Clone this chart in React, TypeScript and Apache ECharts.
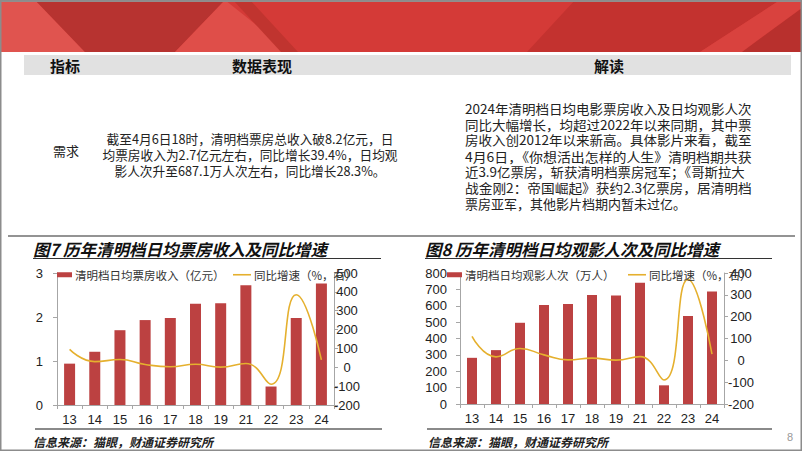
import React, { useEffect, useRef } from "react";
import * as echarts from "echarts";

const years = ["13", "14", "15", "16", "17", "18", "19", "21", "22", "23", "24"];
const boxOffice = [0.94, 1.21, 1.7, 1.93, 1.98, 2.3, 2.31, 2.72, 0.42, 1.98, 2.76];
const boxOfficeYoY = [95, 30, 41, 15, 3, 16, 1, 20, -90, 385, 39.4];
const admissions = [282, 329, 496, 604, 611, 665, 662, 740, 114, 537, 687.1];
const admissionsYoY = [110, 16, 54, 25, 2, 10, 1, 17, -90, 371, 28.3];

const leftTicks1 = { min: 0, max: 3, interval: 1 };
const rightTicks1 = { min: -200, max: 500, interval: 100 };
const leftTicks2 = { min: 0, max: 800, interval: 100 };
const rightTicks2 = { min: -200, max: 400, interval: 100 };

const headerTexts = ["指标", "数据表现", "解读"];
const rowLabel = "需求";
const dataLines = [
  "截至4月6日18时，清明档票房总收入破8.2亿元，日",
  "均票房收入为2.7亿元左右，同比增长39.4%，日均观",
  "影人次升至687.1万人次左右，同比增长28.3%。",
];
const readLines = [
  "2024年清明档日均电影票房收入及日均观影人次",
  "同比大幅增长，均超过2022年以来同期，其中票",
  "房收入创2012年以来新高。具体影片来看，截至",
  "4月6日，《你想活出怎样的人生》清明档期共获",
  "近3.9亿票房，斩获清明档票房冠军；《哥斯拉大",
  "战金刚2：帝国崛起》获约2.3亿票房，居清明档",
  "票房亚军，其他影片档期内暂未过亿。",
];
const title1 = "图7 历年清明档日均票房收入及同比增速";
const title2 = "图8 历年清明档日均观影人次及同比增速";
const source = "信息来源：猫眼，财通证券研究所";
const barName1 = "清明档日均票房收入（亿元）";
const barName2 = "清明档日均观影人次（万人）";
const lineName1 = "同比增速（%，右）";
const lineName2 = "同比增速（%，右）\u200b";

const FONT = "'Liberation Sans', 'Noto Sans CJK SC', sans-serif";
const CJK = "'Noto Sans CJK SC', 'Liberation Sans', sans-serif";
const BAR = "#BC4141";
const LINE = "#E5B02E";
const AX = "#A6A6A6";

function measure(text: string, size: number, family: string) {
  try {
    const c = document.createElement("canvas").getContext("2d");
    if (!c) return 0;
    c.font = `${size}px ${family}`;
    return c.measureText(text).width;
  } catch (e) {
    return 0;
  }
}

function txt(text: string, x: number, y: number, size: number, o: any = {}) {
  return {
    type: "text",
    x,
    y,
    z: 10,
    scaleX: o.scaleX || 1,
    style: {
      text,
      fill: o.fill || "#222",
      fontSize: size,
      fontFamily: o.family || CJK,
      fontWeight: o.weight || "normal",
      fontStyle: o.style || "normal",
      align: o.align || "left",
      textAlign: o.align || "left",
      verticalAlign: "middle",
      textVerticalAlign: "middle",
      lineHeight: o.lineHeight,
    },
  };
}
function poly(points: number[][], fill: string) {
  return { type: "polygon", shape: { points }, style: { fill }, z: 1 };
}
function hline(x1: number, x2: number, y: number, stroke: string, w: number) {
  return { type: "line", shape: { x1, y1: y, x2, y2: y }, style: { stroke, lineWidth: w }, z: 5 };
}

function yAxis(t: any, gridIndex: number, right: boolean, margin: number) {
  return {
    type: "value",
    gridIndex,
    position: right ? "right" : "left",
    min: t.min,
    max: t.max,
    interval: t.interval,
    splitLine: { show: false },
    axisLine: { show: true, lineStyle: { color: AX } },
    axisTick: { show: true, length: 4, lineStyle: { color: AX } },
    axisLabel: {
      color: "#222",
      fontSize: 13,
      fontFamily: FONT,
      margin,
      align: right ? "center" : "right",
    },
  };
}
function xAxis(gridIndex: number) {
  return {
    type: "category",
    gridIndex,
    data: years,
    boundaryGap: true,
    axisLine: { show: true, lineStyle: { color: AX } },
    axisTick: { show: true, interval: 0, length: 4, lineStyle: { color: AX } },
    axisLabel: { color: "#222", fontSize: 13, fontFamily: FONT, margin: 8, interval: 0 },
  };
}

export default function App() {
  const ref = useRef<HTMLDivElement>(null);
  useEffect(() => {
    if (!ref.current) return;
    const chart = echarts.init(ref.current, null, { renderer: "svg" });
    const readSize = 13;
    const readWidth = 287;
    const readEls = readLines.map((l, i) => {
      const w = measure(l, readSize, CJK);
      const last = i === readLines.length - 1;
      let sx = 1;
      if (w > 0 && (!last || w > readWidth)) sx = Math.max(0.85, Math.min(1.08, readWidth / w));
      return txt(l, 465, 108.5 + i * 15.8, readSize, { scaleX: sx });
    });
    const graphics: any[] = [
      { type: "rect", shape: { x: 0, y: 0, width: 802, height: 451 }, style: { fill: "#fff" }, z: 0 },
      // banner
      { type: "rect", shape: { x: 0, y: 0, width: 802, height: 52 }, style: { fill: "#D43A37" }, z: 1 },
      poly([[0, 0], [35, 0], [85, 52], [0, 52]], "#E0544F"),
      poly([[35, 0], [225, 0], [175, 52], [85, 52]], "#B73330"),
      poly([[225, 0], [175, 52], [290, 52]], "#DF4E49"),
      poly([[233, 0], [250, 0], [298, 52], [281, 52]], "#C0342F"),
      poly([[575, 0], [780, 0], [700, 52], [527, 52]], "#C3322F"),
      poly([[780, 0], [802, 0], [802, 8], [742, 52], [700, 52]], "#D9423E"),
      poly([[802, 8], [802, 52], [742, 52]], "#B8302D"),
      hline(0, 802, 1, "#9a8f8f", 2),
      // header band
      { type: "rect", shape: { x: 24, y: 55, width: 767, height: 20 }, style: { fill: "#E1E1E1" }, z: 2 },
      txt(headerTexts[0], 65, 65, 15, { weight: "bold", align: "center", fill: "#111" }),
      txt(headerTexts[1], 262, 65, 15, { weight: "bold", align: "center", fill: "#111" }),
      txt(headerTexts[2], 609, 65, 15, { weight: "bold", align: "center", fill: "#111" }),
      txt(rowLabel, 66, 150, 13, { align: "center" }),
      txt(dataLines.join("\n"), 250, 154.5, 12.7, { align: "center", lineHeight: 15.6 }),
      ...readEls,
      // panel separators
      hline(8, 795, 236, "#6f6f6f", 1.5),
      hline(33, 381, 258.5, "#333", 1),
      hline(425, 772, 258.5, "#333", 1),
      hline(35, 382, 429, "#8a8a8a", 2),
      hline(427, 772, 429, "#8a8a8a", 2),
      txt(title1, 33, 249, 16.5, { weight: "bold", style: "italic", fill: "#111" }),
      txt(title2, 425, 249, 16.5, { weight: "bold", style: "italic", fill: "#111" }),
      txt(source, 33, 441.5, 12, { weight: "bold", style: "italic", fill: "#222" }),
      txt(source, 428, 441.5, 12, { weight: "bold", style: "italic", fill: "#222" }),
      txt("8", 790, 437, 11, { fill: "#999", family: FONT, align: "center" }),
      // page border
      {
        type: "rect",
        shape: { x: 0.75, y: 0.75, width: 800.5, height: 449.5 },
        style: { fill: "none", stroke: "#8c8c8c", lineWidth: 1.5 },
        z: 20,
      },
    ];

    const legendBase = {
      orient: "horizontal",
      top: 269,
      padding: 0,
      itemGap: 10,
      icon: "rect",
      textStyle: { fontSize: 11.5, color: "#333", fontFamily: CJK, padding: [0, 0, 0, -2] },
    };

    chart.setOption({
      animation: false,
      backgroundColor: "#fff",
      graphic: { elements: graphics },
      legend: [
        { ...legendBase, left: 57, itemWidth: 15, itemHeight: 5, data: [barName1] },
        { ...legendBase, left: 233, itemWidth: 18, itemHeight: 1.6, data: [lineName1] },
        { ...legendBase, left: 447, itemWidth: 15, itemHeight: 5, data: [barName2] },
        { ...legendBase, left: 628, itemWidth: 18, itemHeight: 1.6, data: [lineName2] },
      ],
      grid: [
        { left: 57, top: 273, width: 277, height: 132 },
        { left: 460, top: 273, width: 264, height: 131 },
      ],
      xAxis: [xAxis(0), xAxis(1)],
      yAxis: [
        yAxis(leftTicks1, 0, false, 14),
        yAxis(rightTicks1, 0, true, 13),
        yAxis(leftTicks2, 1, false, 13),
        yAxis(rightTicks2, 1, true, 17),
      ],
      series: [
        {
          name: barName1,
          type: "bar",
          xAxisIndex: 0,
          yAxisIndex: 0,
          data: boxOffice,
          barWidth: 11,
          itemStyle: { color: BAR },
        },
        {
          name: lineName1,
          type: "line",
          xAxisIndex: 0,
          yAxisIndex: 1,
          data: boxOfficeYoY,
          smooth: 0.5,
          symbol: "none",
          lineStyle: { color: LINE, width: 1.6 },
          itemStyle: { color: LINE },
          z: 3,
        },
        {
          name: barName2,
          type: "bar",
          xAxisIndex: 1,
          yAxisIndex: 2,
          data: admissions,
          barWidth: 10,
          itemStyle: { color: BAR },
        },
        {
          name: lineName2,
          type: "line",
          xAxisIndex: 1,
          yAxisIndex: 3,
          data: admissionsYoY,
          smooth: 0.5,
          symbol: "none",
          lineStyle: { color: LINE, width: 1.6 },
          itemStyle: { color: LINE },
          z: 3,
        },
      ],
    });
    return () => chart.dispose();
  }, []);
  return (
    <div
      ref={ref}
      style={{ position: "absolute", left: 0, top: 0, width: 802, height: 451 }}
    />
  );
}
